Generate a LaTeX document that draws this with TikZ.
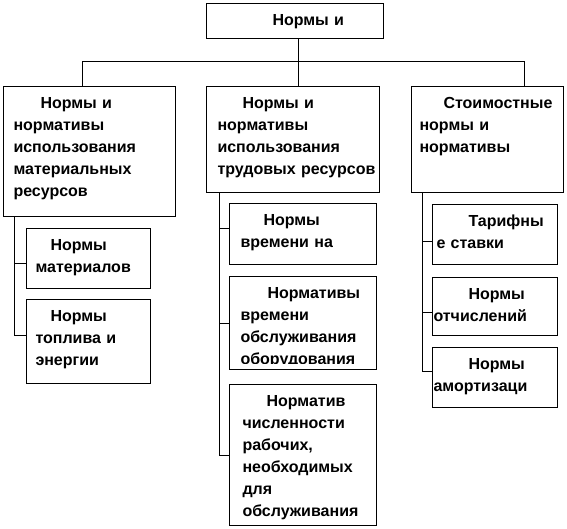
\documentclass[tikz,border=0pt]{standalone}
\usepackage{fontspec}
\setmainfont{Liberation Sans}
\usetikzlibrary{positioning}

\begin{document}
\begin{tikzpicture}[x=1pt, y=-1pt, line width=1pt,
  box/.style={draw, rectangle, anchor=north west, inner sep=0pt},
  txt/.style={anchor=north west, inner sep=0pt, xshift=#1, yshift=-6.6pt,
    text width=170pt, align=left,
    font={\fontsize{16}{22}\selectfont\bfseries},
    execute at begin node={\noindent\strut}}]
  \useasboundingbox (0,0) rectangle (567,529);

  % Top box
  \node[box, minimum width=177pt, minimum height=35pt] (top) at (206,3) {};
  \node[txt=66pt] (top-t) at (top.north west) {Нормы и};

  % Level 1
  \node[box, minimum width=172pt, minimum height=130pt] (mat) at (3,86) {};
  \node[txt=10pt] (mat-t) at (mat.north west)
    {\hspace*{27pt}Нормы и\\нормативы\\использования\\материальных\\ресурсов};
  \node[box, minimum width=173pt, minimum height=106pt] (lab) at (206,86) {};
  \node[txt=11pt] (lab-t) at (lab.north west)
    {\hspace*{25pt}Нормы и\\нормативы\\использования\\трудовых ресурсов};
  \node[box, minimum width=152pt, minimum height=106pt] (cost) at (411,86) {};
  \node[txt=8pt] (cost-t) at (cost.north west)
    {\hspace*{24pt}Стоимостные\\нормы и\\нормативы};

  % Bus
  \coordinate (bus-m) at (298,62);
  \coordinate (bus-l) at (82,62);
  \coordinate (bus-r) at (524,62);
  \draw (bus-m |- top.south) -- (bus-m |- lab.north);
  \draw (bus-l |- mat.north) -- (bus-l) -- (bus-r) -- (bus-r |- cost.north);

  % Material resources
  \node[box, minimum width=124pt, minimum height=60pt] (mat1) at (26,228) {};
  \node[txt=9pt] (mat1-t) at (mat1.north west) {\hspace*{15pt}Нормы\\материалов};
  \node[box, minimum width=124pt, minimum height=84pt] (mat2) at (26,299) {};
  \node[txt=9pt] (mat2-t) at (mat2.north west) {\hspace*{15pt}Нормы\\топлива и\\энергии};
  \coordinate (sp-l) at (14,216);
  \draw (sp-l |- mat.south) |- ([yshift=6pt]mat2.west);
  \draw (sp-l |- mat1.west) ++(0,5) -- ([yshift=-5pt]mat1.west);

  % Labour resources
  \node[box, minimum width=147pt, minimum height=61pt] (lab1) at (229,203) {};
  \node[txt=11pt] (lab1-t) at (lab1.north west) {\hspace*{23pt}Нормы\\времени на};
  \node[box, minimum width=147pt, minimum height=93pt] (lab2) at (229,276) {};
  \begin{scope}
    \clip (lab2.north west) rectangle ([yshift=7pt]lab2.south east);
    \node[txt=11pt] (lab2-t) at (lab2.north west)
      {\hspace*{27pt}Нормативы\\времени\\обслуживания\\оборудования};
  \end{scope}
  \node[box, minimum width=147pt, minimum height=141pt] (lab3) at (229,384) {};
  \node[txt=13pt] (lab3-t) at (lab3.north west)
    {\hspace*{24pt}Норматив\\численности\\рабочих,\\необходимых\\для\\обслуживания};
  \coordinate (sp-m) at (219,192);
  \draw (sp-m |- lab.south) |- (lab3.west);
  \draw (sp-m |- lab1.west) ++(0,-5.5) -- ([yshift=5.5pt]lab1.west);
  \draw (sp-m |- lab2.west) -- (lab2.west);

  % Cost norms
  \node[box, minimum width=125pt, minimum height=60pt] (cost1) at (432,204) {};
  \node[txt=4pt] (cost1-t) at (cost1.north west) {\hspace*{32pt}Тарифны\\е ставки};
  \node[box, minimum width=125pt, minimum height=58pt] (cost2) at (432,277) {};
  \node[txt=1pt] (cost2-t) at (cost2.north west) {\hspace*{35pt}Нормы\\отчислений};
  \node[box, minimum width=125pt, minimum height=60pt] (cost3) at (432,347) {};
  \node[txt=1pt] (cost3-t) at (cost3.north west) {\hspace*{35pt}Нормы\\амортизаци};
  \coordinate (sp-r) at (422,192);
  \draw (sp-r |- cost.south) |- ([yshift=6pt]cost3.west);
  \draw (sp-r |- cost1.west) ++(0,7) -- ([yshift=-7pt]cost1.west);
  \draw (sp-r |- cost2.west) ++(0,6) -- ([yshift=-6pt]cost2.west);
\end{tikzpicture}
\end{document}
